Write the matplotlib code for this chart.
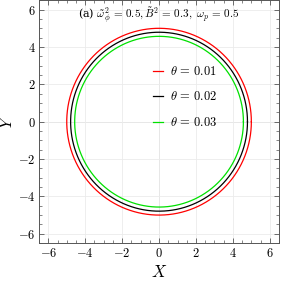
import numpy as np
import matplotlib
matplotlib.use("Agg")
import matplotlib.pyplot as plt
from matplotlib.ticker import MultipleLocator, FuncFormatter

plt.rcParams['mathtext.fontset'] = 'cm'
plt.rcParams['font.family'] = 'serif'
plt.rcParams['font.serif'] = ['DejaVu Serif']

thetas = ["0.01", "0.02", "0.03"]
radii = [5.0, 4.79, 4.57]
colors = ["#ff0000", "#000000", "#00e000"]
major_ticks = [-6, -4, -2, 0, 2, 4, 6]

fig = plt.figure(figsize=(2.83, 2.84), dpi=100)
ax = fig.add_axes([0.138, 0.144, 0.848, 0.855])

phi = np.linspace(0, 2 * np.pi, 400)
for th, r, c in zip(thetas, radii, colors):
    ax.plot(r * np.cos(phi), r * np.sin(phi), color=c, lw=0.9,
            label=r"$\theta\,=\,%s$" % th)

ax.set_xlim(-6.5, 6.5)
ax.set_ylim(-6.5, 6.5)
ax.set_xticks(major_ticks)
ax.set_yticks(major_ticks)
ax.xaxis.set_minor_locator(MultipleLocator(0.5))
ax.yaxis.set_minor_locator(MultipleLocator(0.5))
fmt = FuncFormatter(lambda v, p: r"$%d$" % v)
ax.xaxis.set_major_formatter(fmt)
ax.yaxis.set_major_formatter(fmt)
ax.tick_params(which='both', direction='in', top=True, right=True,
               labelsize=9, color='#555555', pad=2.5)
ax.tick_params(which='major', length=3.5, width=0.6)
ax.tick_params(which='minor', length=2, width=0.5)
for s in ax.spines.values():
    s.set_color('#555555')
    s.set_linewidth(0.7)

ax.grid(True, which='major', color='#ebebeb', lw=0.6)
ax.axhline(0, color='#cccccc', lw=0.6, zorder=0.5)
ax.axvline(0, color='#cccccc', lw=0.6, zorder=0.5)

ax.set_xlabel(r"$X$", fontsize=12)
ax.set_ylabel(r"$Y$", fontsize=12)
ax.xaxis.set_label_coords(0.5, -0.088)
ax.yaxis.set_label_coords(-0.095, 0.5)

ax.text(0.5, 0.978, r"(a) $\tilde{\omega}_\phi^2 \,=\, 0.5, \tilde{B}^2 \,=\, 0.3,\ \omega_p \,=\, 0.5$",
        transform=ax.transAxes, ha='center', va='top', fontsize=8)

leg = ax.legend(loc='upper left', bbox_to_anchor=(0.43, 0.78), frameon=False,
                fontsize=9, handlelength=0.8, handletextpad=0.5, labelspacing=1.0)

fig.savefig("out.png", dpi=100)
